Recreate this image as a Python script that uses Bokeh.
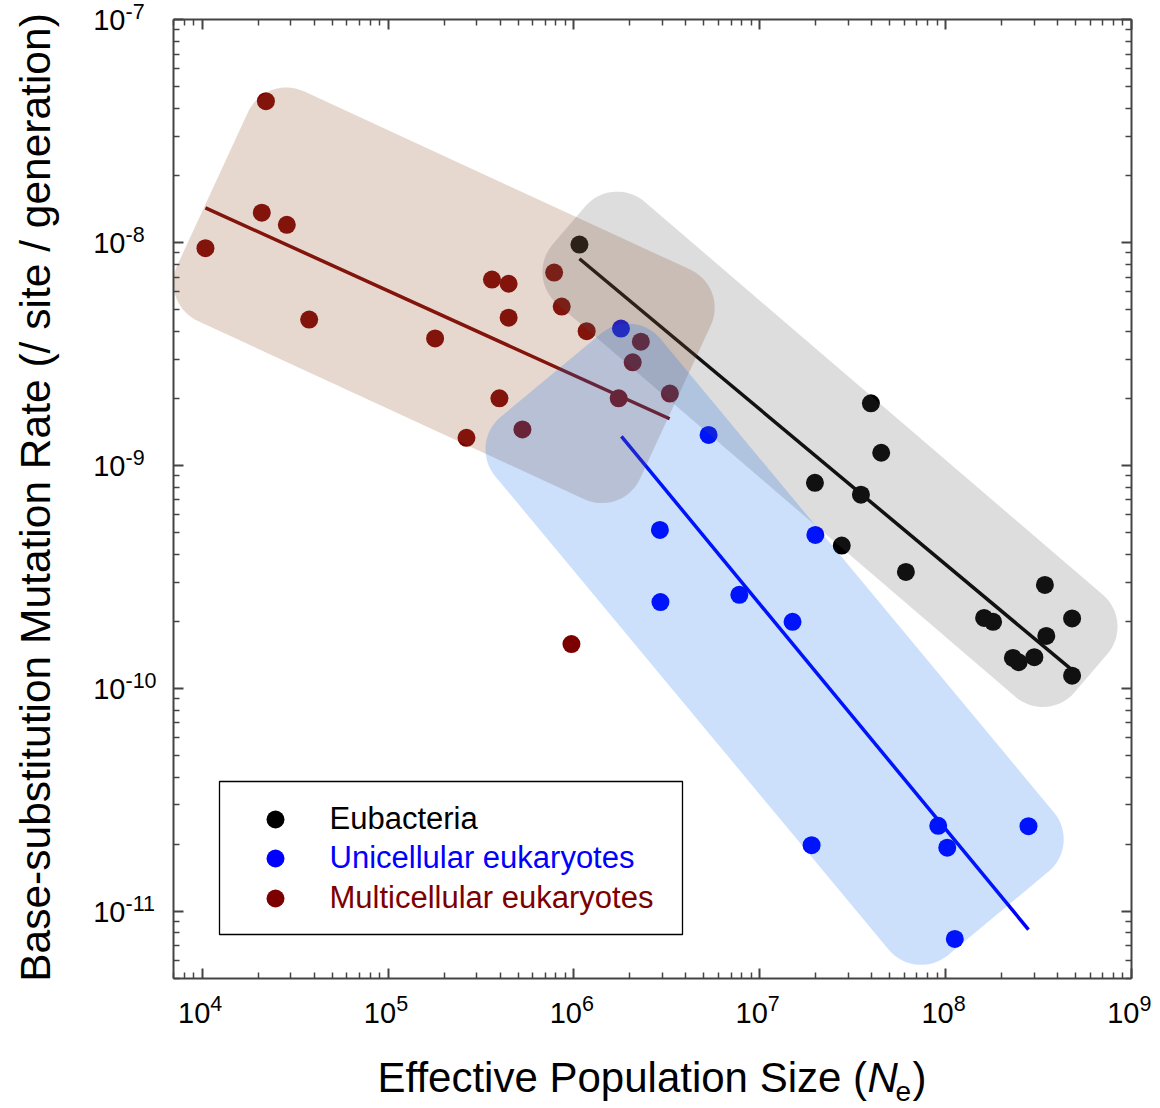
import numpy as np
from bokeh.plotting import figure
from bokeh.models import LogAxis, FixedTicker, Label
from bokeh.embed import file_html
from bokeh.resources import INLINE

# ---------------- data ----------------
eub_ne = [1.07e6, 3.96e7, 4.50e7, 1.98e7, 3.50e7, 2.76e7, 6.11e7, 3.42e8,
          1.61e8, 1.80e8, 4.79e8, 3.48e8, 2.30e8, 2.47e8, 3.00e8, 4.79e8]
eub_mu = [9.79e-9, 1.90e-9, 1.14e-9, 8.36e-10, 7.39e-10, 4.37e-10, 3.33e-10, 2.91e-10,
          2.07e-10, 1.99e-10, 2.06e-10, 1.72e-10, 1.37e-10, 1.31e-10, 1.38e-10, 1.14e-10]

uni_ne = [1.79e6, 5.30e6, 2.90e6, 1.99e7, 2.92e6, 7.76e6, 1.50e7, 1.90e7,
          9.12e7, 1.02e8, 2.79e8, 1.12e8]
uni_mu = [4.11e-9, 1.37e-9, 5.14e-10, 4.88e-10, 2.44e-10, 2.63e-10, 1.99e-10, 1.98e-11,
          2.42e-11, 1.93e-11, 2.41e-11, 7.52e-12]

mul_ne = [1.04e4, 2.20e4, 2.09e4, 2.85e4, 3.76e4, 1.79e5, 2.64e5, 3.62e5, 4.45e5, 4.45e5,
          3.97e5, 5.28e5, 7.82e5, 8.59e5, 1.17e6, 1.74e6, 2.07e6, 2.29e6, 3.28e6, 9.69e5]
mul_mu = [9.43e-9, 4.30e-8, 1.36e-8, 1.20e-8, 4.51e-9, 3.71e-9, 1.33e-9, 6.82e-9, 6.53e-9, 4.60e-9,
          2.00e-9, 1.45e-9, 7.33e-9, 5.16e-9, 4.00e-9, 2.00e-9, 2.90e-9, 3.59e-9, 2.10e-9, 1.58e-10]

# regression lines (end points)
fit_mul_ne = [1.04e4, 3.27e6]
fit_mul_mu = [1.43e-8, 1.62e-9]
fit_eub_ne = [1.07e6, 4.73e8]
fit_eub_mu = [8.45e-9, 1.22e-10]
fit_uni_ne = [1.80e6, 2.79e8]
fit_uni_mu = [1.35e-9, 8.29e-12]

# shaded group regions (corner points, Ne / mu)
reg_mul_ne = [2.196e4, 6.78e6, 1.822e6, 5.90e3]
reg_mul_mu = [5.71e-8, 6.30e-9, 5.88e-10, 5.33e-9]
reg_eub_ne = [1.616e6, 1.041e9, 3.52e8, 5.465e5]
reg_eub_mu = [2.020e-8, 1.983e-10, 6.91e-11, 7.04e-9]
reg_uni_ne = [2.094e6, 5.34e8, 6.89e7, 2.70e5]
reg_uni_mu = [5.16e-9, 1.99e-11, 4.82e-12, 1.25e-9]

x_tick_vals = [1e4, 1e5, 1e6, 1e7, 1e8, 1e9]
x_tick_exps = ["4", "5", "6", "7", "8", "9"]
y_tick_vals = [1e-7, 1e-8, 1e-9, 1e-10, 1e-11]
y_tick_exps = ["-7", "-8", "-9", "-10", "-11"]

legend_labels = ["Eubacteria", "Unicellular eukaryotes", "Multicellular eukaryotes"]
legend_colors = ["#000000", "#0000ff", "#7d0000"]

# ---------------- layout ----------------
XLO, XHI = 7e3, 1e9          # axis box limits
YLO, YHI = 5e-12, 1e-7
BOX_L, BOX_R, BOX_T, BOX_B = 173, 1131, 19, 978     # axis box in canvas px
W, H = 1158, 1106
FR_L, FR_R, FR_T, FR_B = 10, 1157, 0, 1105           # drawing frame in canvas px
FONT = "Liberation Sans"
BASE = 0.35   # baseline correction (fraction of font size)
SUP = 21.5    # superscript font size

kx = (BOX_R - BOX_L) / (np.log10(XHI) - np.log10(XLO))
ky = (BOX_B - BOX_T) / (np.log10(YHI) - np.log10(YLO))


def px2x(px):
    return 10 ** (np.log10(XLO) + (px - BOX_L) / kx)


def px2y(py):
    return 10 ** (np.log10(YHI) - (py - BOX_T) / ky)


def rounded(cx, cy, r, n=18):
    pts = np.column_stack([np.log10(cx) * kx, np.log10(cy) * ky])
    m = len(pts)
    out = []
    for i in range(m):
        P, A, B = pts[i], pts[i - 1], pts[(i + 1) % m]
        d1 = (A - P) / np.linalg.norm(A - P)
        d2 = (B - P) / np.linalg.norm(B - P)
        ang = np.arccos(np.clip(d1 @ d2, -1, 1))
        t = r / np.tan(ang / 2)
        bis = (d1 + d2) / np.linalg.norm(d1 + d2)
        C = P + bis * (r / np.sin(ang / 2))
        T1, T2 = P + d1 * t, P + d2 * t
        a1 = np.arctan2(T1[1] - C[1], T1[0] - C[0])
        a2 = np.arctan2(T2[1] - C[1], T2[0] - C[0])
        da = (a2 - a1 + np.pi) % (2 * np.pi) - np.pi
        for s in np.linspace(0, 1, n):
            a = a1 + da * s
            out.append(C + r * np.array([np.cos(a), np.sin(a)]))
    out = np.array(out)
    return list(10 ** (out[:, 0] / kx)), list(10 ** (out[:, 1] / ky))


p = figure(frame_width=FR_R - FR_L, frame_height=FR_B - FR_T,
           x_axis_type="log", y_axis_type="log",
           x_range=(px2x(FR_L), px2x(FR_R)), y_range=(px2y(FR_B), px2y(FR_T)),
           min_border_left=FR_L, min_border_right=W - FR_R,
           min_border_top=FR_T, min_border_bottom=H - FR_B,
           output_backend="svg", toolbar_location=None,
           background_fill_color="white", border_fill_color="white")
p.grid.visible = False
p.outline_line_color = None

x_minor = [k * 10.0 ** e for e in range(3, 9) for k in range(2, 10) if XLO <= k * 10.0 ** e <= XHI]
y_minor = [k * 10.0 ** e for e in range(-12, -7) for k in range(2, 10) if YLO <= k * 10.0 ** e <= YHI]

p.add_layout(LogAxis(), "right")
p.add_layout(LogAxis(), "above")
p.below[0].fixed_location = YLO
p.above[0].fixed_location = YHI
p.left[0].fixed_location = XLO
p.right[0].fixed_location = XHI
for ax in p.xaxis:
    ax.ticker = FixedTicker(ticks=x_tick_vals, minor_ticks=x_minor)
    ax.bounds = (XLO, XHI)
for ax in p.yaxis:
    ax.ticker = FixedTicker(ticks=y_tick_vals, minor_ticks=y_minor)
    ax.bounds = (YLO, YHI)
for ax in p.axis:
    ax.axis_line_color = "#444444"
    ax.axis_line_width = 2
    ax.major_tick_line_color = "#444444"
    ax.minor_tick_line_color = "#444444"
    ax.major_tick_line_width = 2
    ax.minor_tick_line_width = 1.5
    ax.major_tick_in = 10
    ax.major_tick_out = 0
    ax.minor_tick_in = 6
    ax.minor_tick_out = 0
    ax.major_label_text_font_size = "0px"
    ax.major_label_text_color = None
    ax.major_label_standoff = 0
    ax.axis_label = None
    ax.axis_label_standoff = 0

# data points
p.scatter(eub_ne, eub_mu, marker="circle", size=18, fill_color=legend_colors[0], line_color=None)
p.scatter(uni_ne, uni_mu, marker="circle", size=18, fill_color=legend_colors[1], line_color=None)
p.scatter(mul_ne, mul_mu, marker="circle", size=18, fill_color=legend_colors[2], line_color=None)

# fits
p.line(fit_mul_ne, fit_mul_mu, line_color=legend_colors[2], line_width=3.5)
p.line(fit_eub_ne, fit_eub_mu, line_color=legend_colors[0], line_width=3.5)
p.line(fit_uni_ne, fit_uni_mu, line_color=legend_colors[1], line_width=3.5)

# translucent regions
R = 42
bx, by = rounded(reg_mul_ne, reg_mul_mu, R)
p.patch(bx, by, fill_color="#935730", fill_alpha=0.23, line_color=None)
gx, gy = rounded(reg_eub_ne, reg_eub_mu, R)
p.patch(gx, gy, fill_color="#555555", fill_alpha=0.2, line_color=None)
ux, uy = rounded(reg_uni_ne, reg_uni_mu, R)
p.patch(ux, uy, fill_color="#0064f0", fill_alpha=0.2, line_color=None)

# legend
p.quad(left=[px2x(219)], right=[px2x(682)], top=[px2y(781)], bottom=[px2y(934)],
       fill_color="white", line_color="black", line_width=1.3)
leg_py = [819, 858, 898]
p.scatter([px2x(275)] * 3, [px2y(v) for v in leg_py], marker="circle", size=18,
          fill_color=legend_colors, line_color=None)
for lab, col, py in zip(legend_labels, legend_colors, leg_py):
    p.add_layout(Label(x=px2x(329), y=px2y(py + 10 - BASE * 31), text=lab,
                       text_font=FONT, text_font_size="31px", text_color=col,
                       text_align="left", text_baseline="alphabetic"))

# tick labels (10 with superscript exponent)
for v, e in zip(x_tick_vals, x_tick_exps):
    p.add_layout(Label(x=v, y=YLO, x_offset=8, y_offset=-45 + BASE * 29, text="10",
                       text_font=FONT, text_font_size="29px", text_color="black",
                       text_align="right", text_baseline="alphabetic"))
    p.add_layout(Label(x=v, y=YLO, x_offset=8, y_offset=-33 + BASE * SUP, text=e,
                       text_font=FONT, text_font_size=f"{SUP}px", text_color="black",
                       text_align="left", text_baseline="alphabetic"))
for v, e in zip(y_tick_vals, y_tick_exps):
    p.add_layout(Label(x=XLO, y=v, x_offset=-48, y_offset=-11 + BASE * 29, text="10",
                       text_font=FONT, text_font_size="29px", text_color="black",
                       text_align="right", text_baseline="alphabetic"))
    p.add_layout(Label(x=XLO, y=v, x_offset=-48, y_offset=0 + BASE * SUP, text=e,
                       text_font=FONT, text_font_size=f"{SUP}px", text_color="black",
                       text_align="left", text_baseline="alphabetic"))

# axis titles
p.add_layout(Label(x=px2x(50 - BASE * 42.5), y=px2y(497), angle=np.pi / 2,
                   text="Base-substitution Mutation Rate (/ site / generation)",
                   text_font=FONT, text_font_size="42.5px", text_color="black",
                   text_align="center", text_baseline="alphabetic"))
xc = px2x((BOX_L + BOX_R) / 2)
ty = px2y(1092 - BASE * 42)
p.add_layout(Label(x=xc, y=ty, x_offset=-275, text="Effective Population Size (",
                   text_font=FONT, text_font_size="42px", text_color="black",
                   text_align="left", text_baseline="alphabetic"))
p.add_layout(Label(x=xc, y=ty, x_offset=215, text="N", text_font=FONT,
                   text_font_size="42px", text_font_style="italic", text_color="black",
                   text_align="left", text_baseline="alphabetic"))
p.add_layout(Label(x=xc, y=ty, x_offset=243, y_offset=-9 - BASE * (42 - 28), text="e",
                   text_font=FONT, text_font_size="28px", text_color="black",
                   text_align="left", text_baseline="alphabetic"))
p.add_layout(Label(x=xc, y=ty, x_offset=260, text=")", text_font=FONT,
                   text_font_size="42px", text_color="black", text_align="left",
                   text_baseline="alphabetic"))

open("out.html", "w").write(file_html(p, INLINE))
